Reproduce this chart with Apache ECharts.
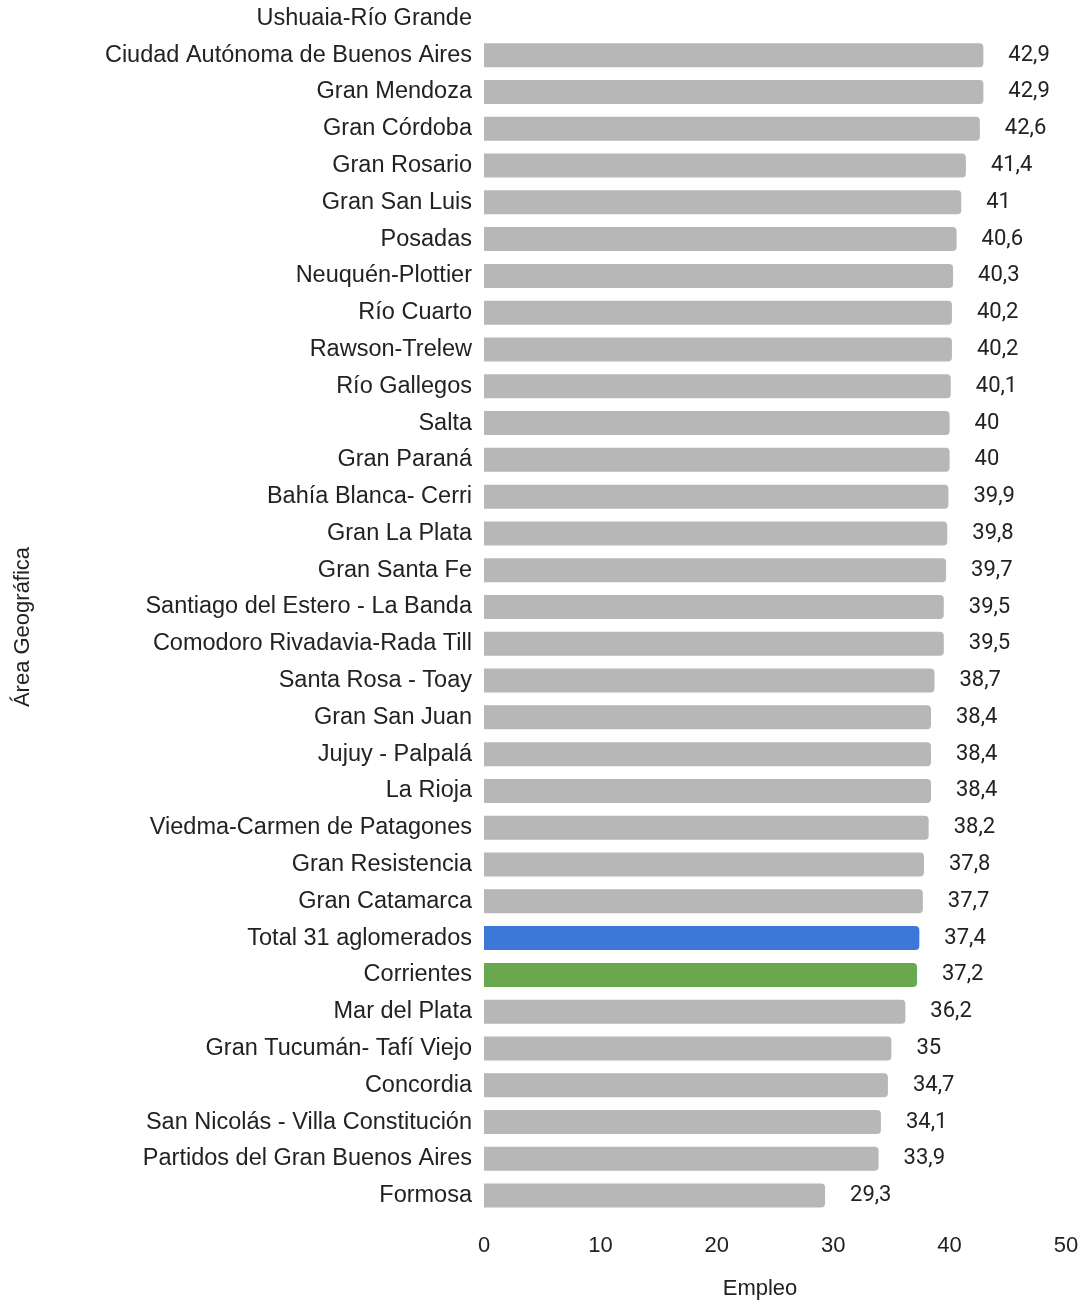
<!DOCTYPE html>
<html>
<head>
<meta charset="utf-8">
<script src="https://cdn.jsdelivr.net/npm/echarts@6/dist/echarts.min.js"></script>
<style>
  html, body { margin: 0; padding: 0; background: #fff; }
  #chart { width: 1083px; height: 1301px; }
</style>
</head>
<body>
<div id="chart"></div>
<script>
var areas = [
  'Ushuaia-Río Grande', 'Ciudad Autónoma de Buenos Aires', 'Gran Mendoza', 'Gran Córdoba',
  'Gran Rosario', 'Gran San Luis', 'Posadas', 'Neuquén-Plottier', 'Río Cuarto',
  'Rawson-Trelew', 'Río Gallegos', 'Salta', 'Gran Paraná', 'Bahía Blanca- Cerri',
  'Gran La Plata', 'Gran Santa Fe', 'Santiago del Estero - La Banda',
  'Comodoro Rivadavia-Rada Till', 'Santa Rosa - Toay', 'Gran San Juan', 'Jujuy - Palpalá',
  'La Rioja', 'Viedma-Carmen de Patagones', 'Gran Resistencia', 'Gran Catamarca',
  'Total 31 aglomerados', 'Corrientes', 'Mar del Plata', 'Gran Tucumán- Tafí Viejo',
  'Concordia', 'San Nicolás - Villa Constitución', 'Partidos del Gran Buenos Aires', 'Formosa'
];
var empleo = [
  null, 42.9, 42.9, 42.6, 41.4, 41, 40.6, 40.3, 40.2, 40.2, 40.1, 40, 40, 39.9, 39.8, 39.7,
  39.5, 39.5, 38.7, 38.4, 38.4, 38.4, 38.2, 37.8, 37.7, 37.4, 37.2, 36.2, 35, 34.7, 34.1, 33.9, 29.3
];
var highlight = { 'Total 31 aglomerados': '#3c78d8', 'Corrientes': '#6aa84f' };

var barData = empleo.map(function (v, i) {
  return {
    value: v,
    itemStyle: { color: highlight[areas[i]] || '#b7b7b7' }
  };
});

var chart = echarts.init(document.getElementById('chart'));
chart.setOption({
  backgroundColor: '#fff',
  animation: false,
  grid: { left: 484, right: 17, top: 0, bottom: 87, containLabel: false, outerBoundsMode: 'none' },
  xAxis: {
    type: 'value',
    min: 0,
    max: 50,
    interval: 10,
    axisLine: { show: false },
    axisTick: { show: false },
    splitLine: { show: false },
    axisLabel: { color: '#222', fontSize: 22, fontFamily: 'Liberation Sans', margin: 21 },
    name: 'Empleo',
    nameLocation: 'middle',
    nameGap: 64,
    nameTextStyle: { color: '#222', fontSize: 22, fontFamily: 'Liberation Sans', padding: [0, 30, 0, 0] }
  },
  yAxis: {
    type: 'category',
    data: areas,
    inverse: true,
    axisLine: { show: false },
    axisTick: { show: false },
    axisLabel: { color: '#222', fontSize: 23.5, fontFamily: 'Liberation Sans', margin: 12 }
  },
  graphic: [{
    type: 'text',
    x: 12,
    y: 627,
    rotation: Math.PI / 2,
    style: {
      text: 'Área Geográfica',
      fill: '#222',
      font: '22px "Liberation Sans"',
      align: 'center',
      verticalAlign: 'top'
    }
  }],
  series: [{
    type: 'bar',
    data: barData,
    barWidth: 24,
    itemStyle: { borderRadius: [0, 4, 4, 0] },
    label: {
      show: true,
      position: 'right',
      distance: 25,
      color: '#222',
      fontSize: 22,
      fontFamily: 'Roboto',
      formatter: function (p) {
        return p.value == null ? '' : String(p.value).replace('.', ',');
      }
    }
  }]
});
</script>
</body>
</html>
